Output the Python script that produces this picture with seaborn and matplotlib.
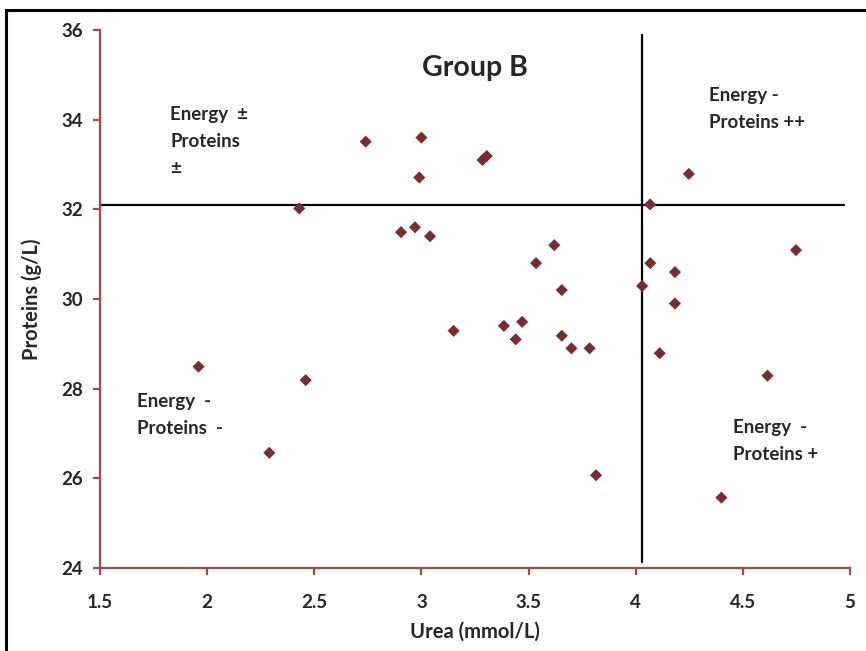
import matplotlib
matplotlib.use("Agg")
import matplotlib.pyplot as plt
import seaborn as sns
import pandas as pd
from matplotlib.patches import Rectangle

urea = [1.96, 2.29, 2.43, 2.46, 2.74, 2.905, 2.97, 2.99, 3.00, 3.04,
        3.15, 3.285, 3.305, 3.385, 3.44, 3.47, 3.535, 3.62, 3.655, 3.655,
        3.70, 3.785, 3.815, 4.03, 4.067, 4.068, 4.112, 4.183, 4.183, 4.248,
        4.40, 4.615, 4.748]
proteins = [28.49, 26.57, 32.02, 28.19, 33.51, 31.49, 31.60, 32.71, 33.60, 31.40,
            29.29, 33.10, 33.19, 29.40, 29.10, 29.49, 30.80, 31.20, 30.20, 29.18,
            28.90, 28.90, 26.07, 30.29, 32.11, 30.80, 28.79, 30.60, 29.90, 32.79,
            25.57, 28.29, 31.09]

h_line_y = 32.1
v_line_x = 4.03
x_ticks = [1.5, 2, 2.5, 3, 3.5, 4, 4.5, 5]
x_tick_labels = ["1.5", "2", "2.5", "3", "3.5", "4", "4.5", "5"]
y_ticks = [24, 26, 28, 30, 32, 34, 36]

quadrant_texts = ["Energy  ±\nProteins\n±", "Energy  -\nProteins  -",
                  "Energy -\nProteins ++", "Energy  -\nProteins +"]

df = pd.DataFrame({"Urea": urea, "Proteins": proteins})

sns.set_style("white")
plt.rcParams['font.family'] = ['Lato', 'DejaVu Sans']

fig = plt.figure(figsize=(8.66, 6.51), dpi=100)
ax = fig.add_axes([100/866, 1-568/651, 750/866, 538/651])

sns.scatterplot(data=df, x="Urea", y="Proteins", marker="D", s=38,
                color="#7b2d2d", edgecolor="none", ax=ax, zorder=3)

ax.plot([1.5, 4.97], [h_line_y, h_line_y], color="black", lw=1.6, zorder=2)
ax.plot([v_line_x, v_line_x], [24.13, 35.89], color="black", lw=1.6, zorder=2)

ax.set_xlim(1.5, 5)
ax.set_ylim(24, 36)
ax.set_xticks(x_ticks)
ax.set_xticklabels(x_tick_labels)
ax.set_yticks(y_ticks)

spine_col = "#a34848"
for side in ["top", "right"]:
    ax.spines[side].set_visible(False)
for side in ["left", "bottom"]:
    ax.spines[side].set_color(spine_col)
    ax.spines[side].set_linewidth(1.6)
ax.tick_params(axis="both", direction="out", length=5, width=1.6, color=spine_col,
               labelsize=13.5, left=True, bottom=True)
ax.tick_params(axis="y", pad=7)
ax.tick_params(axis="x", pad=14)
for lab in ax.get_xticklabels() + ax.get_yticklabels():
    lab.set_fontweight("bold")

ax.set_xlabel("Urea (mmol/L)", fontsize=14.5, fontweight="bold", va="center")
ax.set_ylabel("Proteins (g/L)", fontsize=14.5, fontweight="bold", va="center")
ax.xaxis.set_label_coords(0.5, (568-632)/538)
ax.yaxis.set_label_coords((32-100)/750, 0.5)

ax.text(0.5, 0.93, "Group B", transform=ax.transAxes, ha="center", va="center",
        fontsize=20.5, fontweight="bold")

def fig_xy(px, py):
    return px/866, 1-py/651

tx = [(170, 106), (137, 393), (709, 87), (733, 419)]
for (px, py), t in zip(tx, quadrant_texts):
    fx, fy = fig_xy(px, py)
    fig.text(fx, fy, t, ha="left", va="top", fontsize=13.5, fontweight="bold",
             linespacing=1.7)

fig.patches.append(Rectangle((6/866, -0.1), 1.2, 1-10/651+0.1,
                             transform=fig.transFigure, fill=False,
                             edgecolor="black", lw=2.2))

fig.savefig("out.png", dpi=100)
